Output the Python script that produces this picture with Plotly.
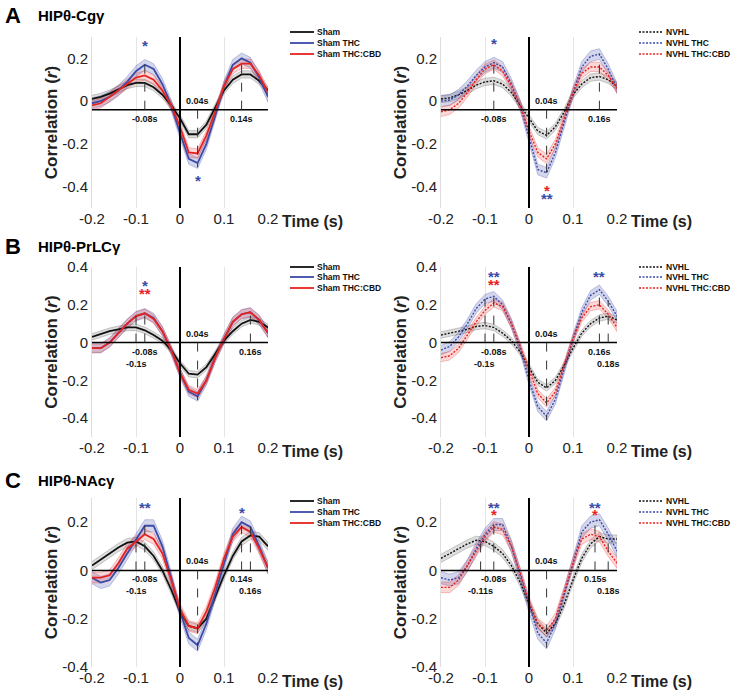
import numpy as np
import plotly.graph_objects as go

W, H = 733, 692
lags = [round(-0.2 + 0.02 * i, 2) for i in range(21)]

# panel A (HIP theta - Cg gamma)
a_sham = [0.01, 0.02, 0.035, 0.055, 0.075, 0.085, 0.085, 0.065, 0.03, -0.02, -0.08, -0.155, -0.155, -0.11, -0.03, 0.05, 0.1, 0.125, 0.125, 0.095, 0.05]
a_sham_thc = [-0.01, 0.0, 0.02, 0.05, 0.09, 0.14, 0.17, 0.15, 0.08, -0.02, -0.15, -0.27, -0.29, -0.2, -0.07, 0.07, 0.17, 0.2, 0.18, 0.11, 0.02]
a_sham_cbd = [-0.02, -0.01, 0.02, 0.05, 0.08, 0.11, 0.12, 0.1, 0.05, -0.02, -0.12, -0.24, -0.245, -0.16, -0.05, 0.07, 0.15, 0.175, 0.175, 0.12, 0.04]
a_nvhl = [0.01, 0.015, 0.03, 0.05, 0.075, 0.09, 0.095, 0.08, 0.04, -0.02, -0.08, -0.14, -0.16, -0.12, -0.05, 0.03, 0.08, 0.11, 0.115, 0.1, 0.07]
a_nvhl_thc = [0.0, 0.005, 0.03, 0.07, 0.12, 0.16, 0.18, 0.16, 0.08, -0.02, -0.17, -0.32, -0.335, -0.24, -0.1, 0.04, 0.16, 0.21, 0.22, 0.15, 0.06]
a_nvhl_cbd = [-0.05, -0.04, -0.01, 0.04, 0.1, 0.15, 0.17, 0.14, 0.07, -0.02, -0.14, -0.24, -0.27, -0.2, -0.08, 0.04, 0.13, 0.16, 0.16, 0.12, 0.06]
# panel B (HIP theta - PrL gamma)
b_sham = [0.03, 0.045, 0.06, 0.07, 0.08, 0.08, 0.065, 0.04, 0.01, -0.04, -0.11, -0.165, -0.17, -0.13, -0.06, 0.01, 0.06, 0.1, 0.12, 0.11, 0.08]
b_sham_thc = [-0.03, -0.03, 0.0, 0.05, 0.1, 0.14, 0.155, 0.13, 0.06, -0.04, -0.16, -0.26, -0.285, -0.2, -0.08, 0.02, 0.11, 0.15, 0.16, 0.12, 0.05]
b_sham_cbd = [-0.03, -0.03, 0.0, 0.05, 0.1, 0.14, 0.155, 0.125, 0.06, -0.04, -0.16, -0.25, -0.27, -0.2, -0.08, 0.02, 0.11, 0.15, 0.16, 0.12, 0.05]
b_nvhl = [0.04, 0.05, 0.06, 0.07, 0.085, 0.09, 0.08, 0.05, 0.01, -0.05, -0.13, -0.21, -0.24, -0.2, -0.12, -0.03, 0.05, 0.1, 0.13, 0.14, 0.12]
b_nvhl_thc = [-0.04, -0.02, 0.03, 0.1, 0.18, 0.23, 0.245, 0.2, 0.1, -0.03, -0.2, -0.34, -0.39, -0.3, -0.14, 0.02, 0.16, 0.25, 0.28, 0.22, 0.14]
b_nvhl_cbd = [-0.08, -0.07, -0.03, 0.04, 0.11, 0.17, 0.21, 0.19, 0.1, -0.02, -0.15, -0.27, -0.32, -0.26, -0.12, 0.02, 0.13, 0.19, 0.2, 0.15, 0.08]
# panel C (HIP theta - NAc gamma)
c_sham = [0.02, 0.045, 0.07, 0.095, 0.115, 0.12, 0.1, 0.06, 0.0, -0.08, -0.17, -0.23, -0.24, -0.2, -0.11, -0.02, 0.06, 0.12, 0.145, 0.14, 0.1]
c_sham_thc = [-0.03, -0.05, -0.04, 0.01, 0.07, 0.13, 0.185, 0.185, 0.1, -0.03, -0.17, -0.28, -0.31, -0.22, -0.1, 0.03, 0.15, 0.2, 0.18, 0.1, 0.01]
c_sham_cbd = [-0.03, -0.03, -0.02, 0.03, 0.09, 0.12, 0.15, 0.13, 0.07, -0.04, -0.16, -0.23, -0.24, -0.17, -0.07, 0.05, 0.14, 0.18, 0.16, 0.09, 0.01]
c_nvhl = [0.05, 0.07, 0.09, 0.11, 0.125, 0.12, 0.1, 0.07, 0.02, -0.05, -0.14, -0.22, -0.26, -0.22, -0.14, -0.04, 0.05, 0.11, 0.14, 0.13, 0.13]
c_nvhl_thc = [-0.03, -0.04, -0.03, 0.02, 0.09, 0.15, 0.19, 0.19, 0.1, -0.02, -0.15, -0.26, -0.3, -0.22, -0.1, 0.03, 0.16, 0.2, 0.21, 0.15, 0.08]
c_nvhl_cbd = [-0.07, -0.07, -0.04, 0.02, 0.08, 0.14, 0.18, 0.17, 0.1, -0.01, -0.13, -0.22, -0.25, -0.2, -0.09, 0.03, 0.13, 0.15, 0.14, 0.08, 0.03]

sems = [0.017, 0.025, 0.022]
sham_names = ["Sham", "Sham THC", "Sham THC:CBD"]
nvhl_names = ["NVHL", "NVHL THC", "NVHL THC:CBD"]
titles = ["HIPθ-Cgγ", "HIPθ-PrLCγ", "HIPθ-NAcγ"]
letters = ["A", "B", "C"]
y_ranges = [[-0.5, 0.3], [-0.5, 0.4], [-0.4, 0.3]]
y_ticks = [[-0.4, -0.2, 0, 0.2], [-0.4, -0.2, 0, 0.2, 0.4], [-0.4, -0.2, 0, 0.2]]
baselines = [-0.04, 0, 0]
# marked lags per panel (left, right)
peak_lags = [
    ([-0.08, 0.04, 0.14], [-0.08, 0.04, 0.16]),
    ([-0.1, -0.08, 0.04, 0.16], [-0.1, -0.08, 0.04, 0.16, 0.18]),
    ([-0.1, -0.08, 0.04, 0.14, 0.16], [-0.11, -0.08, 0.04, 0.15, 0.18]),
]
# significance stars: (lag, y, text, colour index)
stars = [
    ([(-0.08, 0.26, "*", 1), (0.04, -0.37, "*", 1)],
     [(-0.08, 0.27, "*", 1), (0.16, 0.34, "*", 1), (0.16, 0.31, "*", 2), (0.04, -0.42, "*", 2), (0.04, -0.455, "**", 1)]),
    ([(-0.08, 0.3, "*", 1), (-0.08, 0.26, "**", 2)],
     [(-0.08, 0.35, "**", 1), (-0.08, 0.31, "**", 2), (0.16, 0.35, "**", 1)]),
    ([(-0.08, 0.26, "**", 1), (0.14, 0.24, "*", 1)],
     [(-0.08, 0.26, "**", 1), (-0.08, 0.23, "*", 2), (0.15, 0.26, "**", 1), (0.15, 0.23, "*", 2)]),
]
panels = [
    ([a_sham, a_sham_thc, a_sham_cbd], [a_nvhl, a_nvhl_thc, a_nvhl_cbd]),
    ([b_sham, b_sham_thc, b_sham_cbd], [b_nvhl, b_nvhl_thc, b_nvhl_cbd]),
    ([c_sham, c_sham_thc, c_sham_cbd], [c_nvhl, c_nvhl_thc, c_nvhl_cbd]),
]

colors = ["#111111", "#3b4ba8", "#e8231f"]
fills = ["rgba(90,90,90,0.2)", "rgba(60,75,170,0.22)", "rgba(232,35,31,0.18)"]
edges = ["rgba(90,90,90,0.5)", "rgba(60,75,170,0.5)", "rgba(232,35,31,0.45)"]
FONT = "Liberation Sans, Arial"
DOT = "2px,1.5px"

# pixel boxes
x_px = [(92, 268), (441, 617)]
y_px = [(37, 208), (267, 437), (498, 667)]
leg_x = [290, 639]
leg_y = [(32, 43, 54), (267, 277, 288), (501, 512, 523)]

fig = go.Figure()
layout = dict(width=W, height=H, margin=dict(l=0, r=0, t=0, b=0),
              plot_bgcolor="white", paper_bgcolor="white", showlegend=False,
              shapes=[], annotations=[])

def px(x):
    return x / W

def py(y):
    return 1 - y / H

k = 0
for r in range(3):
    for c in range(2):
        k += 1
        suf = "" if k == 1 else str(k)
        xa, ya = "x" + suf, "y" + suf
        layout["xaxis" + suf] = dict(domain=[px(x_px[c][0]), px(x_px[c][1])], range=[-0.2, 0.2],
                                     tickvals=[-0.2, -0.1, 0, 0.1, 0.2], ticktext=["-0.2", "-0.1", "0", "0.1", "0.2"],
                                     showgrid=True, gridcolor="#e4e4e4", zeroline=False, anchor=ya,
                                     ticks="", tickfont=dict(family=FONT, size=15, color="#222"),
                                     showline=False, automargin=False)
        layout["yaxis" + suf] = dict(domain=[py(y_px[r][1]), py(y_px[r][0])], range=y_ranges[r],
                                     tickvals=y_ticks[r], ticktext=[("%g" % v) for v in y_ticks[r]],
                                     showgrid=False, zeroline=False, anchor=xa, ticks="",
                                     showline=True, linecolor="#dddddd", automargin=False,
                                     tickfont=dict(family=FONT, size=15, color="#222"),
                                     title=dict(text="<b>Correlation (<i>r</i>)</b>", standoff=0,
                                                font=dict(family=FONT, size=17, color="#222")))
        series = panels[r][c]
        names = sham_names if c == 0 else nvhl_names
        dash = "solid" if c == 0 else DOT
        for i, vals in enumerate(series):
            v = np.array(vals)
            fig.add_trace(go.Scatter(x=lags + lags[::-1], y=list(v + sems[i]) + list((v - sems[i])[::-1]),
                                     fill="toself", fillcolor=fills[i], line=dict(width=0.6, color=edges[i]),
                                     xaxis=xa, yaxis=ya, hoverinfo="skip"))
        for i, vals in enumerate(series):
            fig.add_trace(go.Scatter(x=lags, y=vals, mode="lines", name=names[i],
                                     line=dict(color=colors[i], width=1.8 if c == 0 else 1.4, dash=dash),
                                     xaxis=xa, yaxis=ya))
        base = baselines[r]
        # zero-lag vertical line and baseline
        layout["shapes"].append(dict(type="line", xref=xa, yref=ya + " domain", x0=0, x1=0, y0=0, y1=1,
                                     line=dict(color="black", width=2)))
        layout["shapes"].append(dict(type="line", xref=xa + " domain", yref=ya, x0=0, x1=1, y0=base, y1=base,
                                     line=dict(color="black", width=1.5)))
        # peak lag markers
        marked = peak_lags[r][c]
        for t in marked:
            vals_at = [float(np.interp(t, lags, s)) for s in series]
            if t == 0.04:
                tip = min(vals_at) - 0.02
                layout["annotations"].append(dict(x=t, y=base, xref=xa, yref=ya, text="<b>0.04s</b>",
                                                  showarrow=False, yanchor="bottom", yshift=2,
                                                  font=dict(family=FONT, size=9, color="#111")))
            else:
                tip = max(vals_at)
                inner = any((u != 0.04) and (u * t > 0) and abs(u) < abs(t) for u in marked)
                layout["annotations"].append(dict(x=t, y=base, xref=xa, yref=ya, text="<b>%gs</b>" % t,
                                                  showarrow=False, yanchor="top", yshift=-2 - (12 if inner else 0),
                                                  font=dict(family=FONT, size=9, color="#111")))
            layout["shapes"].append(dict(type="line", xref=xa, yref=ya, x0=t, x1=t, y0=base, y1=tip,
                                         line=dict(color="#333", width=1, dash="dash")))
        for t, yv, txt, ci in stars[r][c]:
            layout["annotations"].append(dict(x=t, y=yv, xref=xa, yref=ya, text="<b>" + txt + "</b>",
                                              showarrow=False, font=dict(family=FONT, size=15, color=colors[ci])))
        # time label
        layout["annotations"].append(dict(x=px(x_px[c][1] + 12), y=py(y_px[r][1] + 14), xref="paper", yref="paper",
                                          text="<b>Time (s)</b>", showarrow=False, xanchor="left", yanchor="middle",
                                          font=dict(family=FONT, size=16, color="#222")))
        # legend
        for i in range(3):
            yy = py(leg_y[r][i])
            layout["shapes"].append(dict(type="line", xref="paper", yref="paper",
                                         x0=px(leg_x[c]), x1=px(leg_x[c] + 24), y0=yy, y1=yy,
                                         line=dict(color=colors[i], width=1.8 if c == 0 else 1.4, dash=dash)))
            layout["annotations"].append(dict(x=px(leg_x[c] + 25), y=yy, xref="paper", yref="paper",
                                              text="<b>" + names[i] + "</b>", showarrow=False,
                                              xanchor="left", yanchor="middle",
                                              font=dict(family=FONT, size=8.5, color="#111")))
    # panel letter and title
    top = [15, 247, 480][r]
    layout["annotations"].append(dict(x=px(3), y=py(top), xref="paper", yref="paper", text="<b>" + letters[r] + "</b>",
                                      showarrow=False, xanchor="left", yanchor="middle",
                                      font=dict(family=FONT, size=22, color="black")))
    layout["annotations"].append(dict(x=px(36), y=py(top), xref="paper", yref="paper", text="<b>" + titles[r] + "</b>",
                                      showarrow=False, xanchor="left", yanchor="middle",
                                      font=dict(family=FONT, size=15, color="black")))

fig.update_layout(**layout)
fig.write_html("out.html", config={"displayModeBar": False},
               post_script="document.body.style.margin='0';document.body.style.overflow='hidden';")
